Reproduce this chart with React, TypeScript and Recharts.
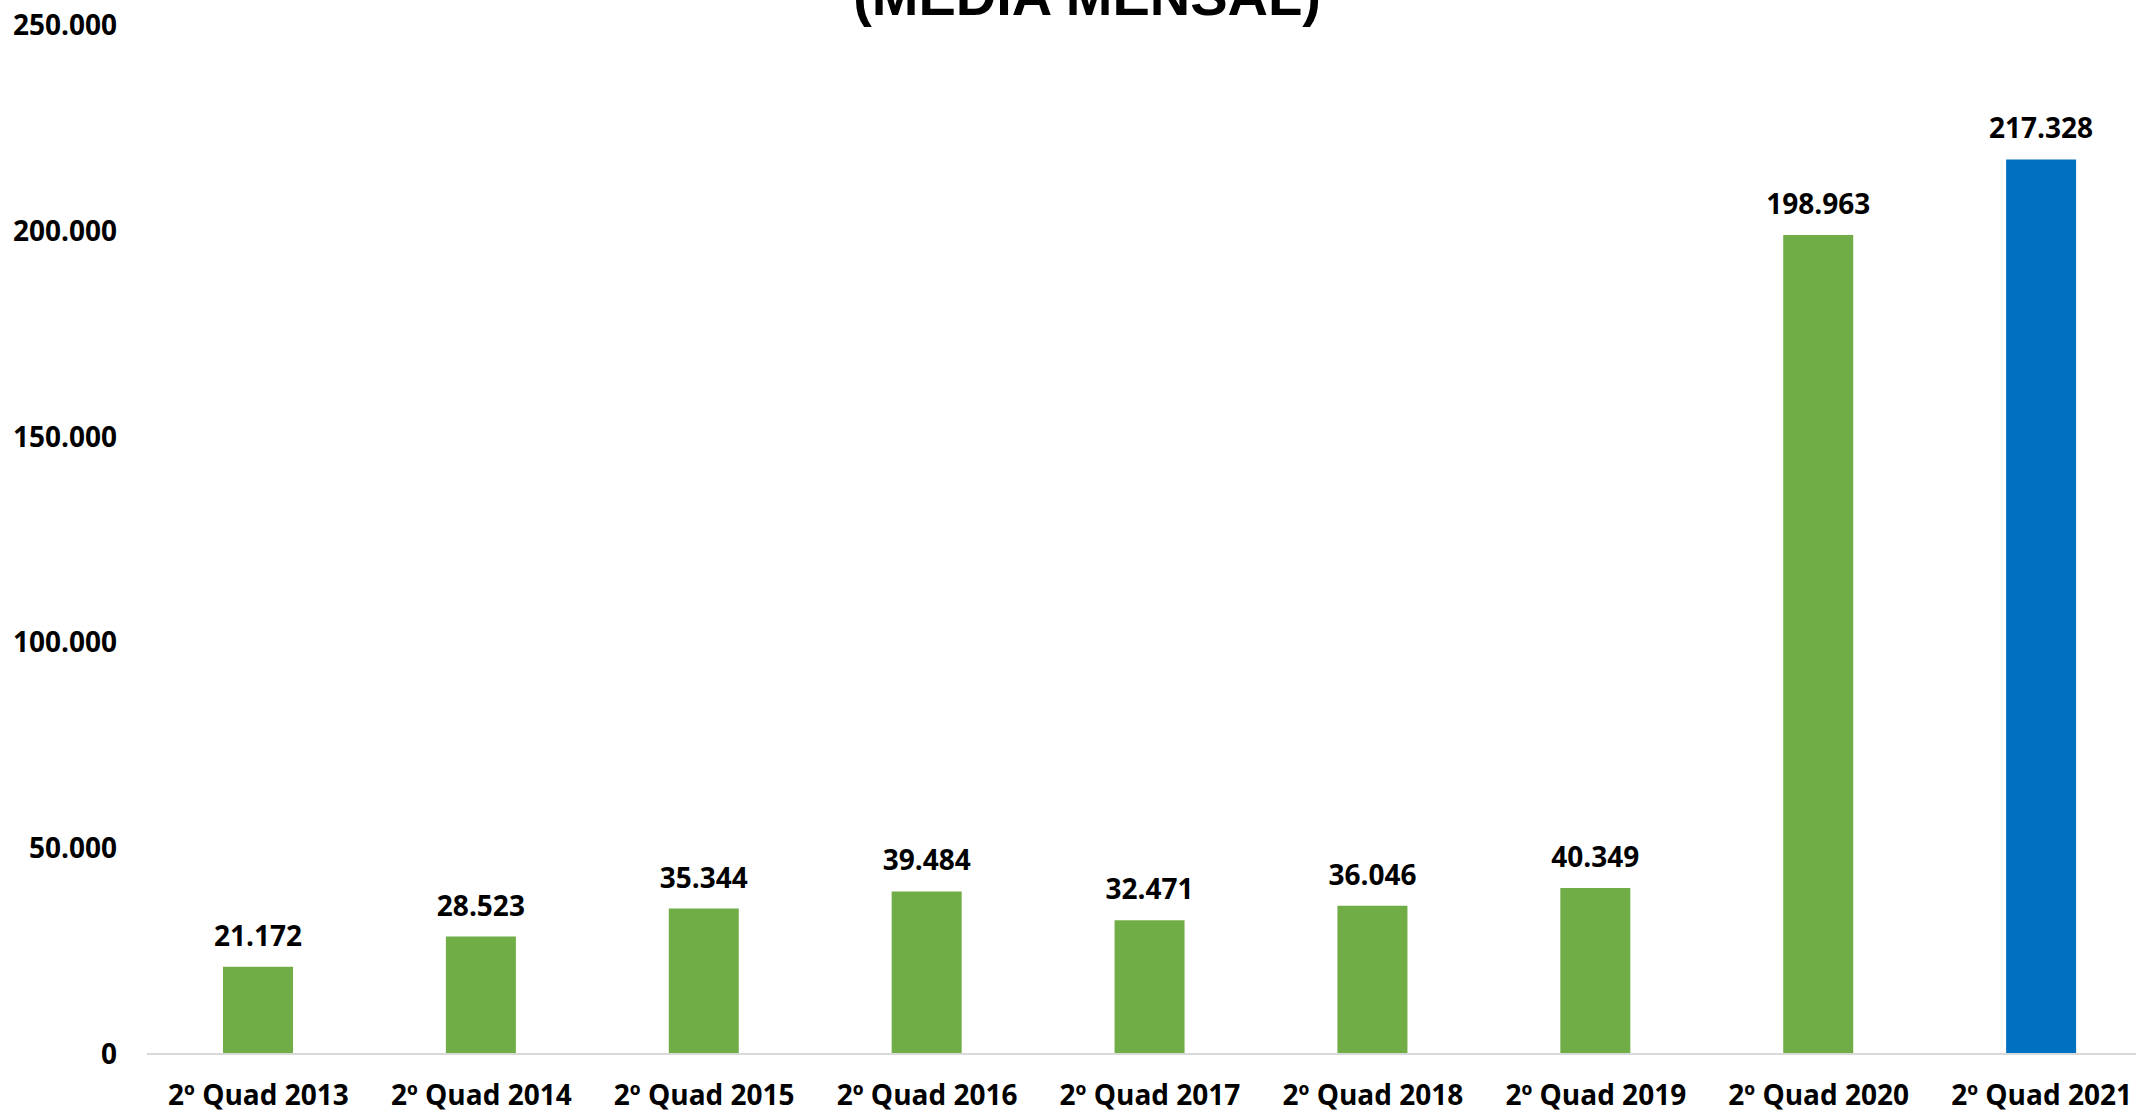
import React from "react";
import { BarChart, Bar, XAxis, YAxis, Cell, LabelList } from "recharts";

const categories = [
  "2º Quad 2013",
  "2º Quad 2014",
  "2º Quad 2015",
  "2º Quad 2016",
  "2º Quad 2017",
  "2º Quad 2018",
  "2º Quad 2019",
  "2º Quad 2020",
  "2º Quad 2021",
];
const values = [21172, 28523, 35344, 39484, 32471, 36046, 40349, 198963, 217328];
const yTicks = [0, 50000, 100000, 150000, 200000, 250000];
const titleText = "(MÉDIA MENSAL)";

const data = categories.map((name, i) => ({ name, value: values[i] }));

const fmt = (v: number) => String(Math.round(v)).replace(/\B(?=(\d{3})+(?!\d))/g, ".");

const FONT = "'Open Sans', sans-serif";

export default function App() {
  return (
    <div
      style={{
        position: "fixed",
        left: 0,
        top: 0,
        width: 2136,
        height: 1112,
        overflow: "hidden",
        background: "#ffffff",
      }}
    >
      <svg
        width={2136}
        height={60}
        style={{ position: "absolute", left: 0, top: 0 }}
      >
        <text
          x={1087}
          y={15}
          textAnchor="middle"
          fontFamily="'Liberation Sans', Arial, sans-serif"
          fontWeight="bold"
          fontSize={56}
          fill="#000000"
        >
          {titleText}
        </text>
      </svg>
      <div style={{ position: "absolute", left: 0, top: 0 }}>
        <BarChart
          width={2160}
          height={1112}
          data={data}
          margin={{ top: 25, right: 7, bottom: 0, left: 0 }}
          barSize={70}
        >
          <XAxis
            dataKey="name"
            axisLine={{ stroke: "#d9d9d9", strokeWidth: 2 }}
            tickLine={false}
            tickSize={0}
            tickMargin={31}
            height={58}
            interval={0}
            tick={{ fill: "#000000", fontSize: 28, fontWeight: "bold", fontFamily: FONT }}
          />
          <YAxis
            width={147}
            domain={[0, 250000]}
            ticks={yTicks}
            axisLine={false}
            tickLine={false}
            tickSize={0}
            tickMargin={30}
            tickFormatter={fmt}
            tick={{ fill: "#000000", fontSize: 28, fontWeight: "bold", fontFamily: FONT }}
          />
          <Bar dataKey="value" isAnimationActive={false}>
            {data.map((d, i) => (
              <Cell key={d.name} fill={i === data.length - 1 ? "#0070c0" : "#70ad47"} />
            ))}
            <LabelList
              dataKey="value"
              position="top"
              offset={21}
              formatter={(v: any) => fmt(Number(v))}
              style={{ fill: "#000000", fontSize: 28, fontWeight: "bold", fontFamily: FONT }}
            />
          </Bar>
        </BarChart>
      </div>
    </div>
  );
}
